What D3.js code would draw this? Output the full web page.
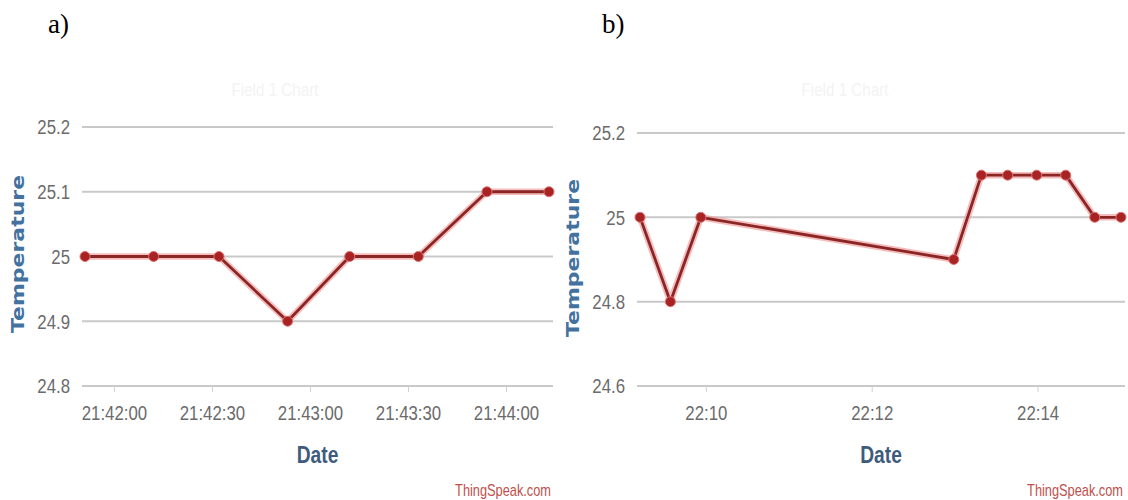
<!DOCTYPE html>
<html>
<head>
<meta charset="utf-8">
<script src="https://cdn.jsdelivr.net/npm/d3@7.9.0/dist/d3.min.js"></script>
<style>
  body { margin: 0; background: #fff; }
  svg { display: block; }
  text { font-family: "Liberation Sans", Arial, sans-serif; }
  .tick-label { font-size: 21px; fill: #6b6b6b; }
</style>
</head>
<body>
<svg id="chart" width="1128" height="500"></svg>
<script>
// chart a) readings
const timesA = ["21:41:51", "21:42:12", "21:42:32", "21:42:53", "21:43:12", "21:43:33", "21:43:54", "21:44:13"];
const valuesA = [25.0, 25.0, 25.0, 24.9, 25.0, 25.0, 25.1, 25.1];
const xTicksA = ["21:42:00", "21:42:30", "21:43:00", "21:43:30", "21:44:00"];
const yTicksA = [24.8, 24.9, 25.0, 25.1, 25.2];

// chart b) readings
const timesB = ["22:09:12", "22:09:34", "22:09:56", "22:12:59", "22:13:19", "22:13:38", "22:13:59", "22:14:20", "22:14:41", "22:15:00"];
const valuesB = [25.0, 24.8, 25.0, 24.9, 25.1, 25.1, 25.1, 25.1, 25.0, 25.0];
const xTicksB = ["22:10", "22:12", "22:14"];
const yTicksB = [24.6, 24.8, 25.0, 25.2];

const parseT = d3.timeParse("%H:%M:%S");
const parseM = d3.timeParse("%H:%M");

const svg = d3.select("#chart");
const SQ = 0.8; // the screenshot is squeezed sideways, so the text looks condensed

// place a text at (x,y) narrowed horizontally
const squeeze = (x, y) => `translate(${x},${y}) scale(${SQ},1)`;

function drawChart(opts) {
  const g = svg.append("g");
  const data = opts.times.map((t, i) => ({ t: parseT(t), v: opts.values[i] }));

  const x = d3.scaleTime()
    .domain(d3.extent(data, d => d.t))
    .range([opts.left + 3, opts.right - 4]);
  const y = d3.scaleLinear()
    .domain(d3.extent(opts.yTicks))
    .range([opts.bottom, opts.top]);

  // faint chart title (washed out in the screenshot)
  g.append("text")
    .attr("transform", squeeze(opts.titleX, 96))
    .attr("text-anchor", "middle")
    .attr("font-size", 19)
    .attr("fill", "#f3f3f3")
    .text("Field 1 Chart");

  // horizontal grid
  g.selectAll(".grid").data(opts.yTicks).join("line")
    .attr("x1", opts.left).attr("x2", opts.right)
    .attr("y1", d => y(d)).attr("y2", d => y(d))
    .attr("stroke", "#c9c9c9").attr("stroke-width", 2);

  // y labels
  g.selectAll(".ylab").data(opts.yTicks).join("text")
    .attr("class", "tick-label")
    .attr("transform", d => squeeze(opts.left - 12, y(d)))
    .attr("dy", "0.35em")
    .attr("text-anchor", "end")
    .text(d => d3.format("")(+d.toFixed(1)));

  // x ticks
  const xt = opts.xTicks.map(opts.parseTick);
  g.selectAll(".xtick").data(xt).join("line")
    .attr("x1", d => x(d)).attr("x2", d => x(d))
    .attr("y1", opts.bottom).attr("y2", opts.bottom + 6)
    .attr("stroke", "#d0d0d0").attr("stroke-width", 1);

  g.selectAll(".xlab").data(opts.xTicks).join("text")
    .attr("class", "tick-label")
    .attr("transform", (d, i) => squeeze(x(xt[i]), 420))
    .attr("text-anchor", "middle")
    .text(d => d);

  // axis titles
  g.append("text")
    .attr("transform", `translate(${opts.ytitleX},${opts.ytitleY}) rotate(-90) scale(1,${SQ})`)
    .attr("text-anchor", "middle")
    .style("font-family", "'DejaVu Sans', sans-serif")
    .attr("font-weight", "bold")
    .attr("font-size", 22)
    .attr("fill", "#44729f")
    .text("Temperature");

  g.append("text")
    .attr("transform", squeeze((opts.left + opts.right) / 2, 463))
    .attr("text-anchor", "middle")
    .attr("font-weight", "bold")
    .attr("font-size", 24)
    .attr("fill", "#3e5b7c")
    .text("Date");

  g.append("text")
    .attr("transform", squeeze(opts.right - 2, 496))
    .attr("text-anchor", "end")
    .attr("font-size", 16)
    .attr("fill", "#c0504d")
    .text("ThingSpeak.com");

  // series
  const line = d3.line().x(d => x(d.t)).y(d => y(d.v));
  g.append("path").datum(data)
    .attr("d", line)
    .attr("fill", "none")
    .attr("stroke", "#f2a0a0").attr("stroke-width", 6.5)
    .attr("stroke-linejoin", "round").attr("opacity", 0.7);
  g.append("path").datum(data)
    .attr("d", line)
    .attr("fill", "none")
    .attr("stroke", "#8a2626").attr("stroke-width", 2.8)
    .attr("stroke-linejoin", "round");
  g.selectAll(".pt").data(data).join("circle")
    .attr("cx", d => x(d.t)).attr("cy", d => y(d.v))
    .attr("r", 5)
    .attr("fill", "#a82424")
    .attr("stroke", "#e07070").attr("stroke-width", 1);

  // panel letter
  svg.append("text")
    .attr("x", opts.letterX).attr("y", 33)
    .style("font-family", "'Liberation Serif', serif")
    .attr("font-size", 27)
    .attr("fill", "#000")
    .text(opts.letter);
}

drawChart({
  times: timesA, values: valuesA, xTicks: xTicksA, yTicks: yTicksA,
  parseTick: parseT,
  left: 82, right: 553, top: 127, bottom: 386,
  ytitleX: 24, ytitleY: 254, titleX: 275,
  letter: "a)", letterX: 48
});

drawChart({
  times: timesB, values: valuesB, xTicks: xTicksB, yTicks: yTicksB,
  parseTick: parseM,
  left: 637, right: 1125, top: 133, bottom: 386,
  ytitleX: 579, ytitleY: 258, titleX: 845,
  letter: "b)", letterX: 602
});
</script>
</body>
</html>
